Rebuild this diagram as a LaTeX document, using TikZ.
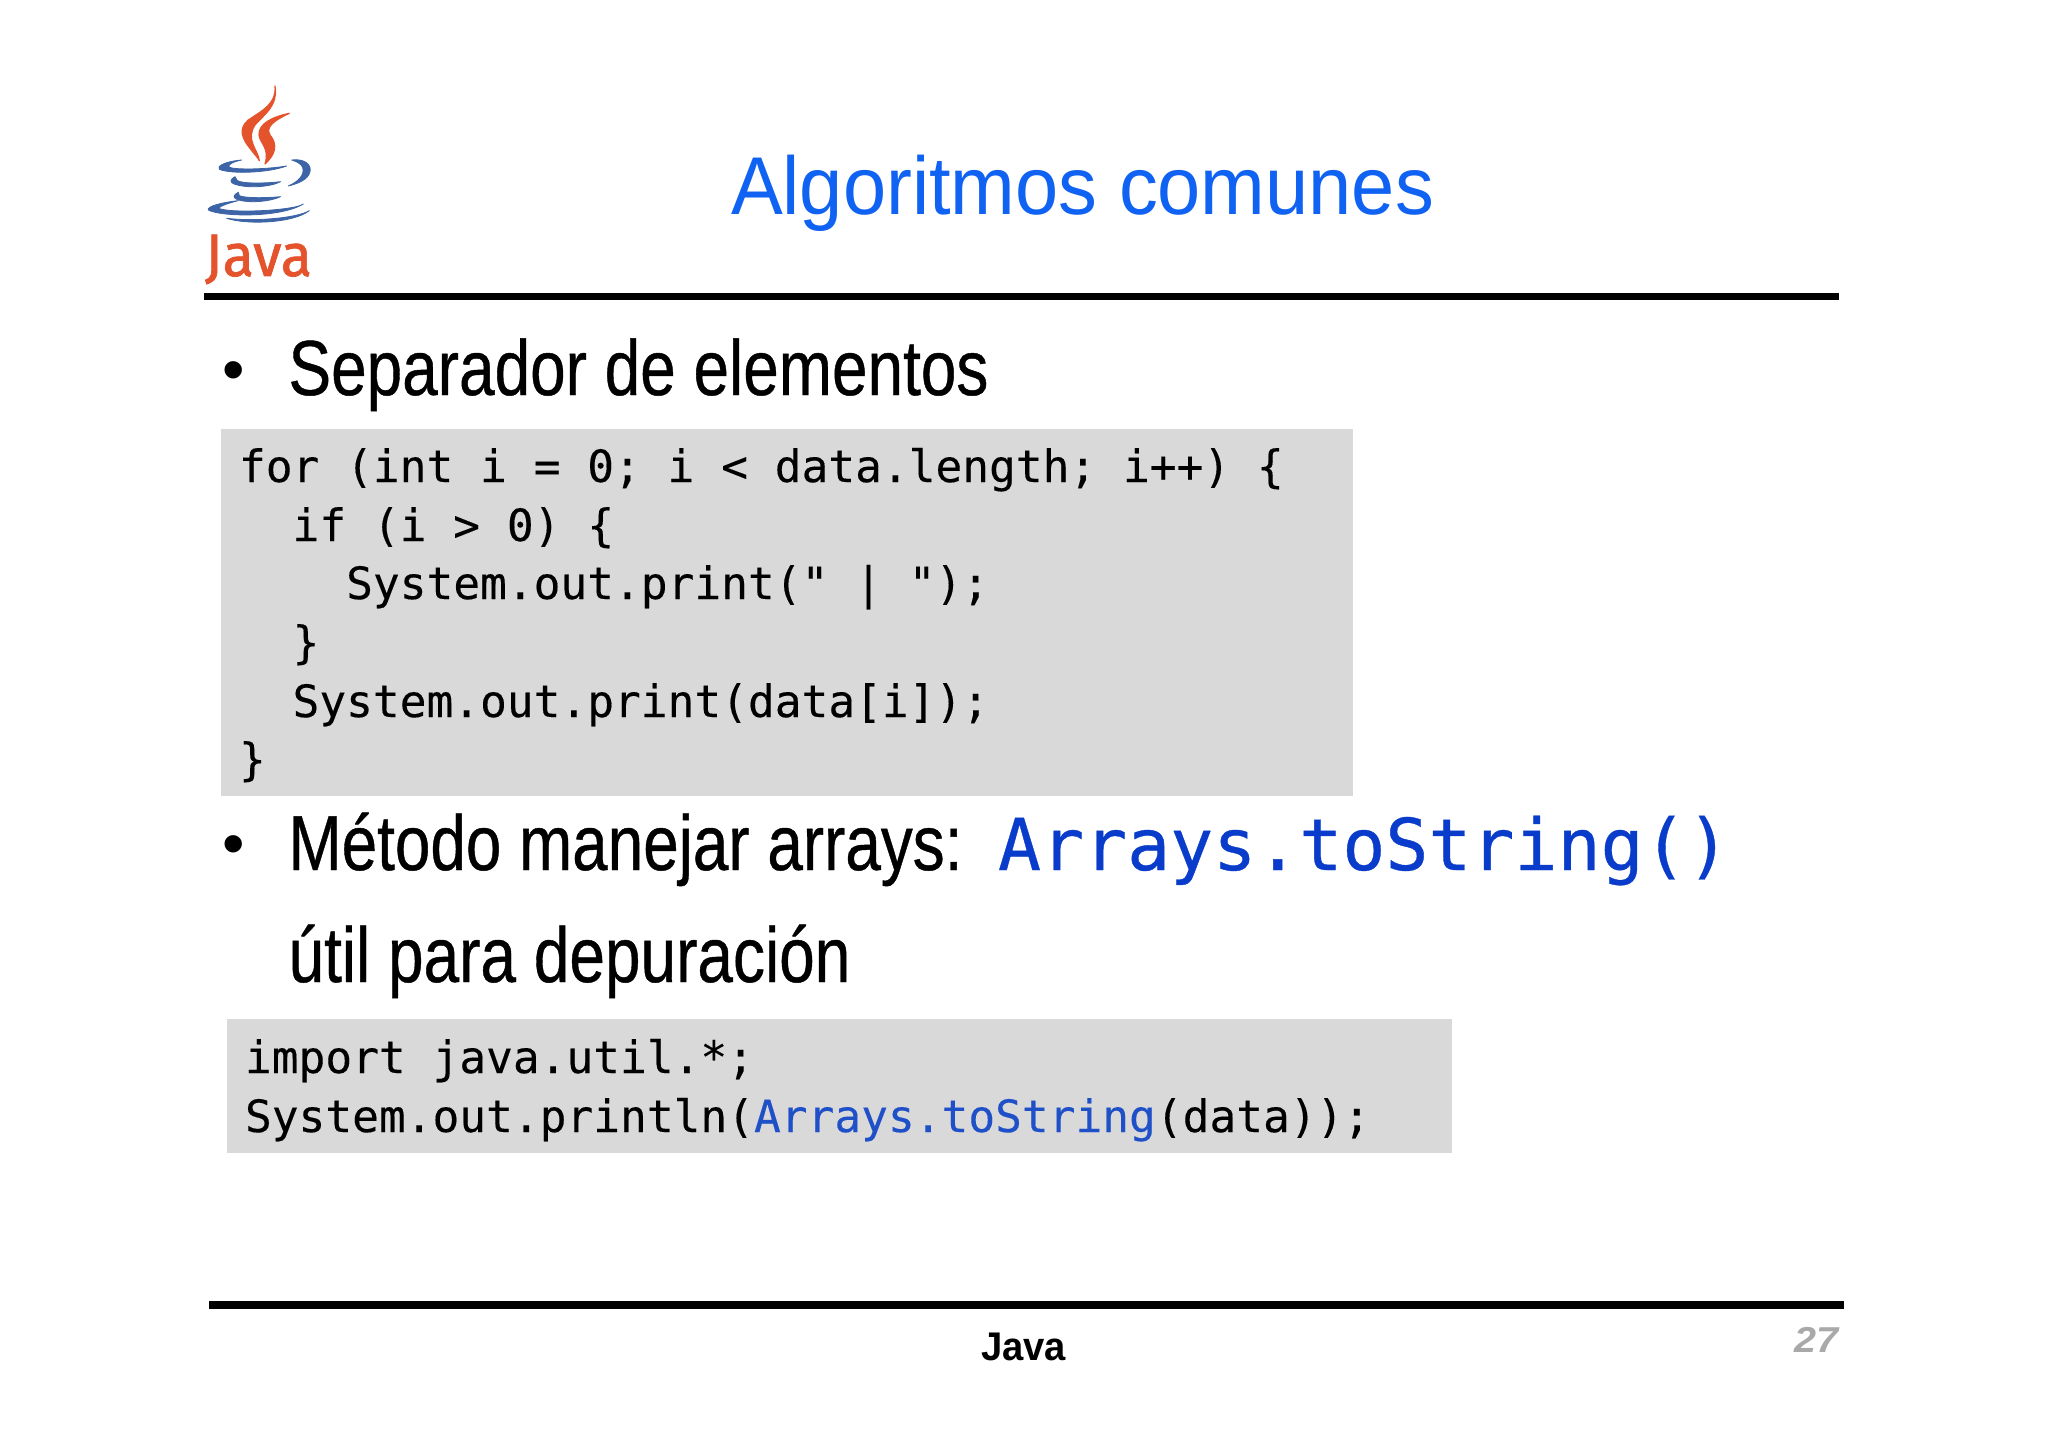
\documentclass[tikz,border=0pt]{standalone}
\usepackage{fontspec}
\usepackage{graphicx}
\setmainfont{Liberation Sans}
\newfontfamily\codefont{DejaVu Sans Mono}[FakeBold=0.25]
\newfontfamily\bigcodefont{DejaVu Sans Mono}[FakeBold=0.5]
\newfontfamily\bodyfont{Liberation Sans}[FakeBold=0.6]
\newfontfamily\logofont{Fira Sans}[FakeBold=1.2]
\definecolor{titleblue}{HTML}{0F62F2}
\definecolor{codegray}{HTML}{D9D9D9}
\definecolor{codeblue}{HTML}{0A3CCB}
\definecolor{inlineblue}{HTML}{1F50C8}
\definecolor{pagegray}{HTML}{A9A9A9}
\definecolor{flame}{HTML}{E4532B}
\definecolor{cup}{HTML}{3C64A6}
\newcommand{\wfit}[2]{\resizebox{#1pt}{\height}{#2}}
\tikzset{
  txt/.style={anchor=base west,inner sep=0pt,outer sep=0pt},
  bodytxt/.style={txt,font=\bodyfont\fontsize{78}{78}\selectfont,text=black},
  bullettxt/.style={txt,font=\fontsize{64}{64}\selectfont,text=black},
  codeline/.style={txt,font=\codefont\fontsize{44.5}{44.5}\selectfont,text=black},
  codebox/.style={fill=codegray,draw=none},
  slide rule/.style={draw=black,line width=7.5pt},
  flamepart/.style={fill=flame,draw=flame,line width=1.2pt,line join=round},
  cuppart/.style={fill=cup,draw=cup,line width=0.8pt,line join=round}
}
\begin{document}
\begin{tikzpicture}[x=1pt,y=-1pt]
\useasboundingbox (0,0) rectangle (2048,1447);
\fill[white] (0,0) rectangle (2048,1447);

% logo
\begin{scope}[shift={(180,60)},x=0.3333pt,y=-0.3333pt]
\path[flamepart] (285,78) .. controls (290,130) and (250,150) .. (205,180) .. controls (175,205) and (185,235) .. (210,265) .. controls (225,285) and (235,295) .. (238,302) .. controls (235,270) and (195,240) .. (225,195) .. controls (250,165) and (295,140) .. (285,78) -- cycle;
\path[flamepart] (328,160) .. controls (280,170) and (235,190) .. (237,225) .. controls (240,250) and (270,265) .. (255,312) .. controls (285,285) and (295,255) .. (270,225) .. controls (255,200) and (285,180) .. (328,160) -- cycle;
\path[cuppart] (185,300) .. controls (130,305) and (110,320) .. (118,328) .. controls (150,342) and (260,340) .. (320,318) .. controls (260,328) and (170,330) .. (148,322) .. controls (140,315) and (160,305) .. (185,300) -- cycle;
\path[cuppart] (335,300) .. controls (375,295) and (395,315) .. (390,335) .. controls (385,360) and (350,372) .. (325,378) .. controls (355,365) and (375,345) .. (368,322) .. controls (362,310) and (350,305) .. (335,300) -- cycle;
\path[cuppart] (165,350) .. controls (150,358) and (148,368) .. (165,373) .. controls (200,385) and (270,382) .. (302,365) .. controls (260,370) and (190,372) .. (172,362) -- cycle;
\path[cuppart] (175,397) .. controls (158,405) and (158,415) .. (175,420) .. controls (210,430) and (270,425) .. (302,410) .. controls (260,414) and (195,415) .. (178,407) -- cycle;
\path[cuppart] (175,422) .. controls (120,428) and (80,440) .. (85,450) .. controls (120,470) and (300,475) .. (370,432) .. controls (350,450) and (160,462) .. (115,445) .. controls (120,438) and (150,428) .. (175,422) -- cycle;
\path[cuppart] (140,475) .. controls (200,495) and (340,490) .. (388,452) .. controls (350,475) and (220,485) .. (140,475) -- cycle;
\end{scope}
\node[txt,text=flame,font=\logofont\fontsize{60}{60}\selectfont] (logotext) at (205,276) {\wfit{107}{Java}};

% title and rules
\node[txt,text=titleblue,font=\fontsize{82}{82}\selectfont] (title) at (731,215) {\wfit{703}{Algoritmos comunes}};
\draw[slide rule] (204,296.5) -- (1839,296.5);
\draw[slide rule] (209,1305) -- (1844,1305);

% first bullet
\node[bullettxt] (b1) at (222,391.5) {•};
\node[bodytxt] (s1) at (288.5,395) {\wfit{700}{Separador de elementos}};

% first code box
\path[codebox] (221,429) rectangle (1353,796);
\node[codeline] (c1) at (239,482) {for (int i = 0; i < data.length; i++) \{};
\node[codeline] (c2) at (239,541) {~~if (i > 0) \{};
\node[codeline] (c3) at (239,599) {~~~~System.out.print(" | ");};
\node[codeline] (c4) at (239,658) {~~\}};
\node[codeline] (c5) at (239,717) {~~System.out.print(data[i]);};
\node[codeline] (c6) at (239,775) {\}};

% second bullet
\node[bullettxt] (b2) at (222,865.5) {•};
\node[bodytxt] (s2) at (288.5,870) {\wfit{674}{Método manejar arrays:}};
\node[txt,font=\bigcodefont\fontsize{71.5}{71.5}\selectfont,text=codeblue] (inl) at (998,870) {Arrays.toString()};
\node[bodytxt] (s3) at (288.5,982) {\wfit{562}{útil para depuración}};

% second code box
\path[codebox] (227,1019) rectangle (1452,1153);
\node[codeline] (d1) at (245,1073) {import java.util.*;};
\node[codeline] (d2) at (245,1132) {System.out.println(\textcolor{inlineblue}{Arrays.toString}(data));};

% footer
\node[txt,font=\bfseries\fontsize{40}{40}\selectfont] (foot) at (981,1360) {\wfit{85}{Java}};
\node[txt,font=\bfseries\itshape\fontsize{36}{36}\selectfont,text=pagegray] (page) at (1794,1352) {\wfit{44}{27}};
\end{tikzpicture}
\end{document}
